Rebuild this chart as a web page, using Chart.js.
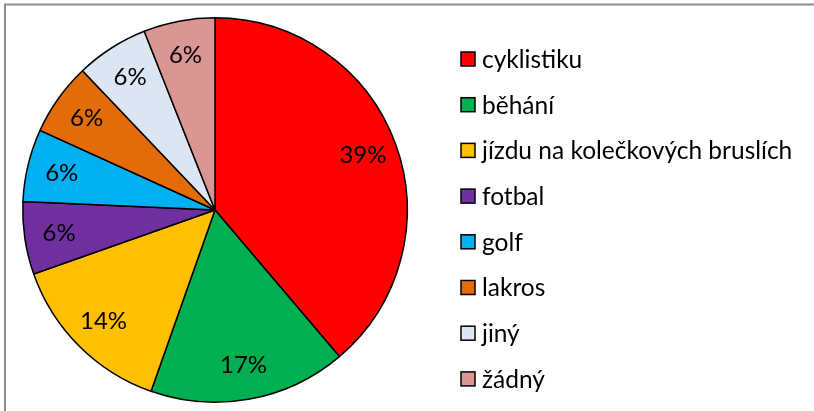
<!DOCTYPE html>
<html>
<head>
<meta charset="utf-8">
<script src="https://cdn.jsdelivr.net/npm/chart.js@4/dist/chart.umd.min.js"></script>
<style>
html,body{margin:0;padding:0;background:#fff;}
#wrap{position:relative;width:814px;height:411px;}
</style>
</head>
<body>
<div id="wrap"><canvas id="c" width="814" height="411"></canvas></div>
<script>
const categories = ["cyklistiku","běhání","jízdu na kolečkových bruslích","fotbal","golf","lakros","jiný","žádný"];
const values = [38.8, 16.6, 14.2, 6.1, 6.1, 6.1, 6.1, 6.0];
const colors = ["#FF0000","#00B050","#FFC000","#7030A0","#00B0F0","#E36C09","#DCE6F2","#D99694"];

const FONT = "Lato, 'Open Sans', sans-serif";

const framePlugin = {
  id: 'frame',
  beforeDraw(chart){
    const ctx = chart.ctx;
    ctx.save();
    ctx.fillStyle = '#fff';
    ctx.fillRect(0,0,chart.width,chart.height);
    ctx.strokeStyle = '#8e8e8e';
    ctx.lineWidth = 2;
    ctx.beginPath();
    ctx.moveTo(5, 411);
    ctx.lineTo(5, 4.5);
    ctx.lineTo(814, 4.5);
    ctx.stroke();
    ctx.restore();
  }
};

const labelPlugin = {
  id: 'pctLabels',
  afterDatasetsDraw(chart){
    const ctx = chart.ctx;
    const meta = chart.getDatasetMeta(0);
    const total = values.reduce((a,b)=>a+b,0);
    ctx.save();
    ctx.font = "24px " + FONT;
    ctx.fillStyle = '#000';
    ctx.textAlign = 'center';
    ctx.textBaseline = 'middle';
    meta.data.forEach((arc, i) => {
      const p = arc.getProps(['x','y','startAngle','endAngle','outerRadius'], true);
      const mid = (p.startAngle + p.endAngle)/2;
      const r = p.outerRadius * 0.82;
      const x = p.x + Math.cos(mid)*r;
      const y = p.y + Math.sin(mid)*r;
      ctx.fillText(Math.round(values[i]/total*100) + '%', x, y);
    });
    ctx.restore();
  }
};

const legendPlugin = {
  id: 'sideLegend',
  afterDraw(chart){
    const ctx = chart.ctx;
    const ds = chart.data.datasets[0];
    ctx.save();
    ctx.font = "24.5px " + FONT;
    ctx.textBaseline = 'middle';
    ctx.textAlign = 'left';
    chart.data.labels.forEach((lab, i) => {
      const cy = 59 + i*45.7;
      ctx.fillStyle = ds.backgroundColor[i];
      ctx.fillRect(461, cy-7, 14, 14);
      ctx.strokeStyle = '#000';
      ctx.lineWidth = 1.5;
      ctx.strokeRect(461, cy-7, 14, 14);
      ctx.fillStyle = '#000';
      ctx.fillText(lab, 482, cy+1);
    });
    ctx.restore();
  }
};

new Chart(document.getElementById('c'), {
  type: 'pie',
  data: {
    labels: categories,
    datasets: [{
      data: values,
      backgroundColor: colors,
      borderColor: '#000',
      borderWidth: 1.5
    }]
  },
  options: {
    responsive: false,
    animation: false,
    layout: { padding: { left: 22, top: 17, right: 406, bottom: 8 } },
    plugins: {
      legend: { display: false },
      tooltip: { enabled: false },
      title: { display: false }
    }
  },
  plugins: [framePlugin, labelPlugin, legendPlugin]
});
</script>
</body>
</html>
